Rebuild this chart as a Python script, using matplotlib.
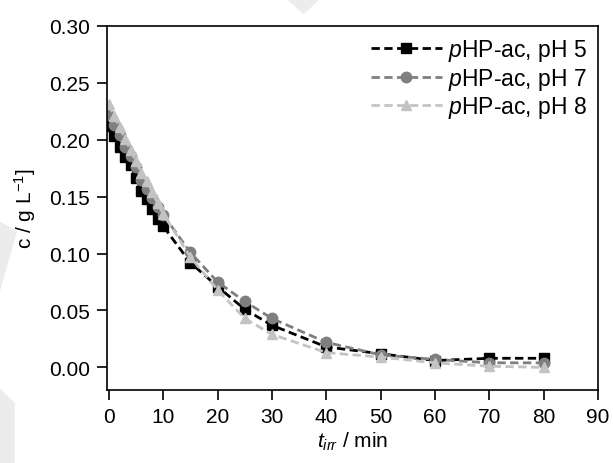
import matplotlib
matplotlib.use("Agg")
import matplotlib.pyplot as plt
from matplotlib.patches import Polygon

plt.rcParams['font.family'] = ['Liberation Sans', 'DejaVu Sans']
plt.rcParams['mathtext.fontset'] = 'custom'
plt.rcParams['mathtext.rm'] = 'Liberation Sans'
plt.rcParams['mathtext.it'] = 'Liberation Sans:italic'

t_min = [0, 1, 2, 3, 4, 5, 6, 7, 8, 9, 10, 15, 20, 25, 30, 40, 50, 60, 70, 80]
c_ph5 = [0.212, 0.203, 0.194, 0.185, 0.178, 0.166, 0.155, 0.148, 0.139, 0.130,
         0.124, 0.092, 0.071, 0.051, 0.037, 0.018, 0.012, 0.006, 0.008, 0.008]
c_ph7 = [0.222, 0.213, 0.204, 0.194, 0.186, 0.176, 0.165, 0.157, 0.149, 0.141,
         0.134, 0.101, 0.075, 0.058, 0.043, 0.022, 0.011, 0.007, 0.004, 0.004]
c_ph8 = [0.231, 0.221, 0.211, 0.201, 0.191, 0.181, 0.171, 0.164, 0.154, 0.144,
         0.135, 0.097, 0.068, 0.043, 0.029, 0.013, 0.009, 0.004, 0.001, 0.000]

labels = ['$\\mathit{p}$HP-ac, pH 5', '$\\mathit{p}$HP-ac, pH 7', '$\\mathit{p}$HP-ac, pH 8']
colors = ['black', '#7f7f7f', '#c3c3c3']
markers = ['s', 'o', '^']

fig = plt.figure(figsize=(6.13, 4.64), dpi=100)
ax = fig.add_axes([0.174, 0.157, 0.8016, 0.785])

# faint background watermark shapes
for pts in ([(0.468, 1.0), (0.522, 1.0), (0.495, 0.967)],
            [(0.0, 0.52), (0.028, 0.50), (0.0, 0.37)],
            [(0.0, 0.0), (0.0, 0.16), (0.024, 0.13), (0.024, 0.0)]):
    fig.patches.append(Polygon(pts, closed=True, transform=fig.transFigure,
                               facecolor='#ececec', edgecolor='none', zorder=0))

for ys, lab, col, mk in zip([c_ph5, c_ph7, c_ph8], labels, colors, markers):
    ax.plot(t_min, ys, linestyle=(0, (3, 1.6)), color=col, linewidth=2,
            marker=mk, markersize=7.5, label=lab)

ax.set_xlim(-0.4, 90)
ax.set_ylim(-0.02, 0.30)
ax.set_xticks(range(0, 91, 10))
ax.set_yticks([0.0, 0.05, 0.10, 0.15, 0.20, 0.25, 0.30])
ax.set_yticklabels(['0.00', '0.05', '0.10', '0.15', '0.20', '0.25', '0.30'])
ax.tick_params(direction='out', length=7, width=1.2, labelsize=15, pad=5,
               top=False, right=False)
for s in ax.spines.values():
    s.set_linewidth(1.2)

ax.set_xlabel('$t_{irr}$ / min', fontsize=15, labelpad=3)
ax.set_ylabel('c / g L$^{-1}$]', fontsize=15, labelpad=8)

ax.legend(loc='upper right', frameon=False, fontsize=16.5, handlelength=3.1,
          handletextpad=0.25, labelspacing=0.1, borderaxespad=0.1)

fig.savefig('out.png', dpi=100)
